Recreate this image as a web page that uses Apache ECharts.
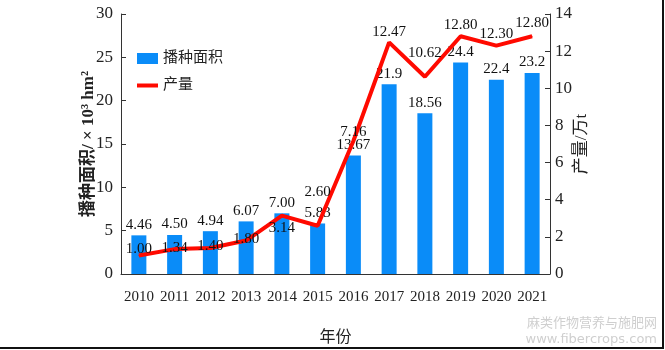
<!DOCTYPE html>
<html>
<head>
<meta charset="utf-8">
<script src="https://cdn.jsdelivr.net/npm/echarts@6/dist/echarts.min.js"></script>
<style>
  html, body {margin: 0; padding: 0; background: #fff;}
  #chart {width: 665px; height: 350px;}
</style>
</head>
<body>
<div id="chart"></div>
<script>
// 年份 / 播种面积 (×10³ hm²) / 产量 (万t)
var years = ['2010', '2011', '2012', '2013', '2014', '2015', '2016', '2017', '2018', '2019', '2020', '2021'];
var area = [4.46, 4.50, 4.94, 6.07, 7.00, 5.83, 13.67, 21.9, 18.56, 24.4, 22.4, 23.2];
var areaText = ['4.46', '4.50', '4.94', '6.07', '7.00', '5.83', '13.67', '21.9', '18.56', '24.4', '22.4', '23.2'];
var output = [1.00, 1.34, 1.40, 1.80, 3.14, 2.60, 7.16, 12.47, 10.62, 12.80, 12.30, 12.80];

// label shift of the line values, as in the original figure
var lineLabelDy = [-6, -1, -2, -2, 12, -34, -9, -10, -24, -11, -12, -13];

var serif = '"Liberation Serif", "Times New Roman", serif';
var cjk = '"Liberation Serif", "Noto Sans CJK SC", serif';

var myChart = echarts.init(document.getElementById('chart'));

myChart.setOption({
    animation: false,
    grid: {left: 121, right: 115, top: 14, bottom: 76, outerBoundsMode: 'none', containLabel: false},
    legend: {
        orient: 'vertical',
        left: 132,
        top: 46,
        itemGap: 12,
        itemWidth: 21,
        itemHeight: 11,
        symbolKeepAspect: true,
        textStyle: {fontFamily: cjk, fontSize: 15, color: '#222'},
        data: [
            {name: '播种面积', icon: 'rect'},
            {name: '产量', icon: 'path://M0,0h21v4h-21z'}
        ]
    },
    xAxis: {
        type: 'category',
        data: years,
        name: '年份',
        nameLocation: 'middle',
        nameGap: 56,
        nameMoveOverlap: false,
        nameTextStyle: {fontFamily: cjk, fontSize: 16, color: '#222'},
        axisLine: {lineStyle: {color: '#333', width: 1}},
        axisTick: {inside: true, length: 11, lineStyle: {color: '#333'}},
        axisLabel: {interval: 0, margin: 16, fontFamily: serif, fontSize: 15, color: '#222'}
    },
    yAxis: [{
        type: 'value',
        min: 0,
        max: 30,
        interval: 5,
        name: '播种面积/ × 10³ hm²',
        nameLocation: 'middle',
        nameRotate: 90,
        nameGap: 24,
        nameMoveOverlap: false,
        nameTextStyle: {fontFamily: cjk, fontSize: 17, fontWeight: 'bold', color: '#222'},
        splitLine: {show: false},
        axisLine: {show: true, lineStyle: {color: '#333'}},
        axisTick: {show: true, inside: true, length: 5, lineStyle: {color: '#333'}},
        axisLabel: {margin: 8, fontFamily: serif, fontSize: 17, color: '#222'}
    }, {
        type: 'value',
        min: 0,
        max: 14,
        interval: 2,
        position: 'right',
        name: '产量/万t',
        nameLocation: 'middle',
        nameRotate: 90,
        nameGap: 23,
        nameMoveOverlap: false,
        nameTextStyle: {fontFamily: cjk, fontSize: 17, color: '#222'},
        splitLine: {show: false},
        axisLine: {show: true, lineStyle: {color: '#333'}},
        axisTick: {show: true, inside: true, length: 5, lineStyle: {color: '#333'}},
        axisLabel: {margin: 5, fontFamily: serif, fontSize: 17, color: '#222'}
    }],
    series: [{
        name: '播种面积',
        type: 'bar',
        yAxisIndex: 0,
        barWidth: 15,
        itemStyle: {color: '#0a8cf8'},
        label: {
            show: true,
            position: 'top',
            distance: 3,
            fontFamily: serif,
            fontSize: 15,
            color: '#111',
            formatter: function (p) { return areaText[p.dataIndex]; }
        },
        data: area
    }, {
        name: '产量',
        type: 'line',
        yAxisIndex: 1,
        symbol: 'circle',
        symbolSize: 1,
        showSymbol: true,
        z: 3,
        itemStyle: {color: '#ff0a00'},
        lineStyle: {color: '#ff0a00', width: 4},
        label: {
            show: true,
            position: 'inside',
            fontFamily: serif,
            fontSize: 15,
            color: '#111',
            formatter: function (p) { return output[p.dataIndex].toFixed(2); }
        },
        data: output.map(function (v, i) {
            return {value: v, label: {offset: [0, lineLabelDy[i]]}};
        })
    }],
    graphic: [{
        type: 'text',
        right: 8,
        top: 316,
        style: {text: '麻类作物营养与施肥网', fill: '#cfcfcf', font: '13px "Noto Sans CJK SC"'}
    }, {
        type: 'text',
        right: 8,
        top: 333,
        style: {text: 'www.fibercrops.com', fill: '#cfcfcf', font: '13px "DejaVu Sans"'}
    }, {
        type: 'line',
        shape: {x1: 0, y1: 348, x2: 663, y2: 348},
        style: {stroke: '#111', lineWidth: 2}
    }, {
        type: 'line',
        shape: {x1: 663, y1: 0, x2: 663, y2: 349},
        style: {stroke: '#111', lineWidth: 2}
    }]
});
</script>
</body>
</html>
